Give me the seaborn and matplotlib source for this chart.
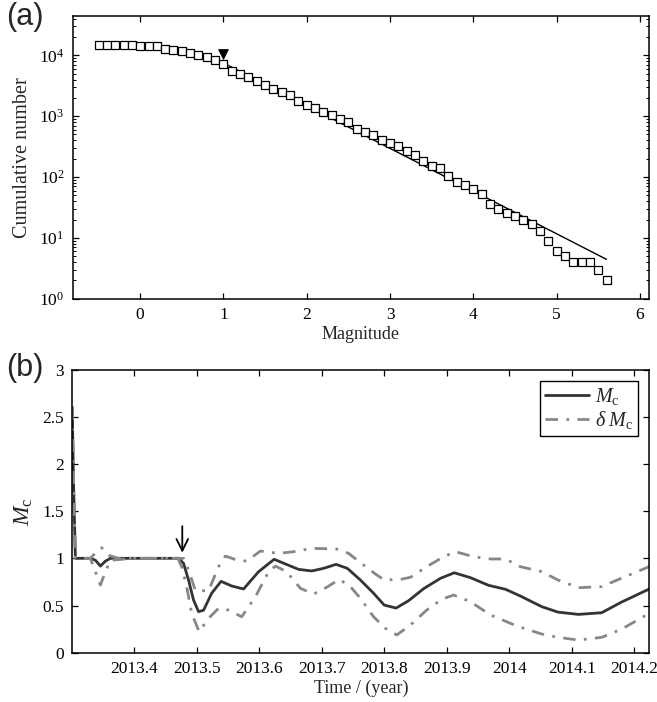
import matplotlib
matplotlib.use("Agg")
import matplotlib.pyplot as plt
import seaborn as sns
import numpy as np
from matplotlib.lines import Line2D
from matplotlib.ticker import LogLocator, FixedLocator

# ---------------- data: panel (a) ----------------
magnitude = [-0.5, -0.4, -0.3, -0.2, -0.1, 0.0, 0.1, 0.2, 0.3, 0.4, 0.5, 0.6, 0.7, 0.8, 0.9, 1.0,
             1.1, 1.2, 1.3, 1.4, 1.5, 1.6, 1.7, 1.8, 1.9, 2.0,
             2.1, 2.2, 2.3, 2.4, 2.5, 2.6, 2.7, 2.8, 2.9, 3.0,
             3.1, 3.2, 3.3, 3.4, 3.5, 3.6, 3.7, 3.8, 3.9, 4.0,
             4.1, 4.2, 4.3, 4.4, 4.5, 4.6, 4.7, 4.8, 4.9, 5.0,
             5.1, 5.2, 5.3, 5.4, 5.5, 5.6]
cum_number = [14600, 14600, 14600, 14500, 14500, 14300, 14300, 14100, 12900, 12200, 11800, 10900, 10000, 9270, 8270, 7300,
              5600, 4930, 4400, 3740, 3210, 2830, 2530, 2230, 1750, 1545,
              1345, 1186, 1045, 910, 792, 615, 550, 484, 411, 357,
              319, 271, 230, 183, 154, 141, 105, 83, 75, 63,
              53, 36, 30, 26, 23, 20, 17, 13, 9, 6,
              5, 4, 4, 4, 3, 2]
fit_mag = [1.0, 5.6]
fit_number = [7480, 4.43]
mc_mag = [1.0]
mc_marker_number = [10600]

# ---------------- data: panel (b) ----------------
t_mc = [2013.301, 2013.303, 2013.306, 2013.33, 2013.338, 2013.346, 2013.354, 2013.362, 2013.40, 2013.471,
        2013.479, 2013.487, 2013.495, 2013.503, 2013.511, 2013.524, 2013.539, 2013.556, 2013.575, 2013.599,
        2013.624, 2013.642, 2013.663, 2013.684, 2013.703, 2013.723, 2013.741, 2013.762, 2013.783, 2013.80,
        2013.819, 2013.839, 2013.863, 2013.89, 2013.912, 2013.938, 2013.967, 2013.994, 2014.018, 2014.052,
        2014.078, 2014.111, 2014.148, 2014.179, 2014.224]
mc = [2.6, 1.8, 1.0, 1.0, 0.98, 0.918, 0.97, 1.0, 1.0, 1.0,
      0.947, 0.77, 0.558, 0.435, 0.45, 0.63, 0.756, 0.707, 0.675, 0.858,
      0.99, 0.94, 0.883, 0.866, 0.894, 0.936, 0.894, 0.77, 0.63, 0.505,
      0.473, 0.551, 0.678, 0.788, 0.847, 0.795, 0.714, 0.672, 0.60, 0.488,
      0.43, 0.406, 0.424, 0.534, 0.675]

t_up = [2013.301, 2013.303, 2013.306, 2013.33, 2013.34, 2013.348, 2013.36, 2013.375, 2013.47, 2013.479,
        2013.487, 2013.498, 2013.519, 2013.535, 2013.546, 2013.564, 2013.58, 2013.602, 2013.631, 2013.655,
        2013.684, 2013.724, 2013.743, 2013.767, 2013.786, 2013.80, 2013.826, 2013.842, 2013.868, 2013.895,
        2013.914, 2013.943, 2013.97, 2013.994, 2014.018, 2014.052, 2014.078, 2014.111, 2014.148, 2014.179,
        2014.224]
mc_up = [2.6, 1.8, 1.0, 1.0, 1.07, 1.112, 1.03, 1.0, 1.0, 1.0,
         0.876, 0.657, 0.657, 0.911, 1.024, 0.982, 0.97, 1.077, 1.053, 1.07,
         1.106, 1.098, 1.053, 0.929, 0.834, 0.77, 0.777, 0.799, 0.911, 1.017,
         1.07, 1.017, 0.993, 0.993, 0.911, 0.859, 0.77, 0.689, 0.70, 0.788,
         0.912]

t_lo = [2013.301, 2013.303, 2013.306, 2013.33, 2013.338, 2013.346, 2013.354, 2013.362, 2013.40, 2013.47,
        2013.476, 2013.484, 2013.492, 2013.504, 2013.519, 2013.535, 2013.551, 2013.572, 2013.594, 2013.615,
        2013.626, 2013.644, 2013.666, 2013.687, 2013.708, 2013.728, 2013.745, 2013.762, 2013.783, 2013.802,
        2013.82, 2013.842, 2013.868, 2013.892, 2013.911, 2013.938, 2013.97, 2014.002, 2014.018, 2014.052,
        2014.078, 2014.111, 2014.148, 2014.179, 2014.224]
mc_lo = [2.6, 1.8, 1.0, 1.0, 0.858, 0.717, 0.858, 0.98, 1.0, 1.0,
         0.911, 0.70, 0.417, 0.222, 0.364, 0.47, 0.452, 0.381, 0.593, 0.858,
         0.918, 0.858, 0.682, 0.622, 0.693, 0.777, 0.707, 0.576, 0.381, 0.258,
         0.188, 0.293, 0.452, 0.566, 0.611, 0.54, 0.40, 0.311, 0.27, 0.198,
         0.163, 0.134, 0.163, 0.247, 0.417]

time_ticks = [2013.4, 2013.5, 2013.6, 2013.7, 2013.8, 2013.9, 2014.0, 2014.1, 2014.2]
time_ticklabels = ["2013.4", "2013.5", "2013.6", "2013.7", "2013.8", "2013.9", "2014", "2014.1", "2014.2"]
mc_ticks = [0, 0.5, 1, 1.5, 2, 2.5, 3]
mc_ticklabels = ["0", "0.5", "1", "1.5", "2", "2.5", "3"]
arrow_time = 2013.477
arrow_from = 1.37
arrow_to = 1.03

# ---------------- style ----------------
sns.set_theme(style="ticks")
plt.rcParams.update({
    "font.family": ["Liberation Serif", "DejaVu Serif"],
    "mathtext.fontset": "custom",
    "mathtext.rm": "Liberation Serif",
    "mathtext.it": "Liberation Serif:italic",
    "mathtext.bf": "Liberation Serif:bold",
    "axes.edgecolor": "black",
    "axes.linewidth": 1.1,
    "xtick.color": "black",
    "ytick.color": "black",
    "xtick.direction": "in",
    "ytick.direction": "in",
    "xtick.top": True,
    "ytick.right": True,
    "xtick.major.size": 4,
    "ytick.major.size": 4,
    "xtick.minor.size": 2,
    "ytick.minor.size": 2,
    "xtick.major.width": 0.9,
    "ytick.major.width": 0.9,
    "xtick.minor.width": 0.7,
    "ytick.minor.width": 0.7,
    "axes.grid": False,
})

fig = plt.figure(figsize=(6.57, 7.02), dpi=100)
ax1 = fig.add_axes([0.1107, 0.5745, 0.8771, 0.4027])
ax2 = fig.add_axes([0.1100, 0.0702, 0.8782, 0.4034])

# ---------------- panel (a) ----------------
sns.lineplot(x=fit_mag, y=fit_number, ax=ax1, color="black", linewidth=1.0, legend=False)
sns.scatterplot(x=magnitude, y=cum_number, ax=ax1, marker="s", s=36,
                facecolor="white", edgecolor="black", linewidth=0.9, legend=False, zorder=3)
sns.scatterplot(x=mc_mag, y=mc_marker_number, ax=ax1, marker="v", s=50,
                color="black", edgecolor="black", legend=False, zorder=4)
ax1.set_yscale("log")
ax1.set_xlim(-0.81, 6.11)
ax1.set_ylim(1, 10 ** 4.646)
ax1.set_xticks([0, 1, 2, 3, 4, 5, 6])
ax1.yaxis.set_major_locator(LogLocator(base=10, numticks=10))
ax1.yaxis.set_minor_locator(LogLocator(base=10, subs=np.arange(2, 10), numticks=20))
ax1.set_xlabel("Magnitude", fontsize=13, labelpad=2)
ax1.set_ylabel("Cumulative number", fontsize=14.5, labelpad=5)
ax1.tick_params(axis="both", which="major", labelsize=12.5, pad=6)
ax1.tick_params(axis="x", which="minor", top=False, bottom=False)
for s in ax1.spines.values():
    s.set_visible(True)

# ---------------- panel (b) ----------------
dashdot = (0, (4.5, 3, 1, 3))
sns.lineplot(x=t_mc, y=mc, ax=ax2, color="#333333", linewidth=2.0, legend=False, sort=False)
sns.lineplot(x=t_up, y=mc_up, ax=ax2, color="#878787", linewidth=2.0, legend=False, sort=False,
             linestyle=dashdot)
sns.lineplot(x=t_lo, y=mc_lo, ax=ax2, color="#878787", linewidth=2.0, legend=False, sort=False,
             linestyle=dashdot)
ax2.set_xlim(2013.301, 2014.224)
ax2.set_ylim(0, 3)
ax2.xaxis.set_major_locator(FixedLocator(time_ticks))
ax2.set_xticklabels(time_ticklabels)
ax2.yaxis.set_major_locator(FixedLocator(mc_ticks))
ax2.set_yticklabels(mc_ticklabels)
ax2.set_xlabel("Time / (year)", fontsize=13, labelpad=2)
ax2.set_ylabel(r"$M_\mathrm{c}$", fontsize=17, labelpad=5)
ax2.tick_params(axis="both", which="major", labelsize=12.5, pad=6)
for s in ax2.spines.values():
    s.set_visible(True)

ax2.annotate("", xy=(arrow_time, arrow_to), xytext=(arrow_time, arrow_from),
             arrowprops=dict(arrowstyle="->,head_length=0.7,head_width=0.35", color="black", lw=1.3))

handles = [Line2D([], [], color="#333333", linewidth=2.0),
           Line2D([], [], color="#878787", linewidth=2.0, linestyle=dashdot)]
leg = ax2.legend(handles, [r"$M_\mathrm{c}$", r"$\delta\;M_\mathrm{c}$"], loc="upper right",
                 fontsize=14.5, frameon=True, fancybox=False, handlelength=2.2, borderpad=0.25,
                 labelspacing=0.1, handletextpad=0.3, borderaxespad=0.55)
leg.get_frame().set_edgecolor("black")
leg.get_frame().set_linewidth(1.0)
leg.get_frame().set_alpha(1)

# panel labels
fig.text(0.010, 0.997, "(a)", fontsize=22, family=["Liberation Sans", "DejaVu Sans"], va="top", ha="left")
fig.text(0.010, 0.497, "(b)", fontsize=22, family=["Liberation Sans", "DejaVu Sans"], va="top", ha="left")

fig.savefig("out.png", dpi=100)
